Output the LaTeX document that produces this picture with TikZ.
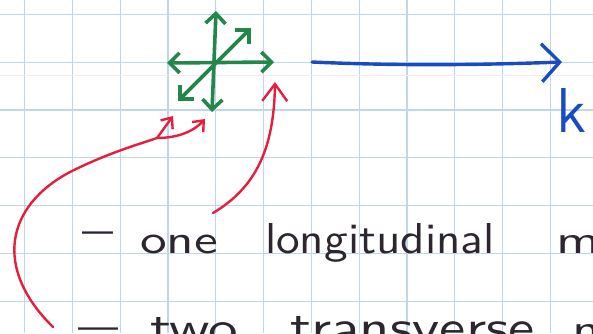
\documentclass[tikz,border=0pt]{standalone}
\usepackage{fontspec}
\usetikzlibrary{arrows.meta}
\definecolor{gridblue}{RGB}{190,215,236}
\definecolor{pinkline}{RGB}{249,232,238}
\definecolor{gpen}{RGB}{35,135,75}
\definecolor{bpen}{RGB}{25,75,195}
\definecolor{rpen}{RGB}{228,30,60}
\definecolor{kpen}{RGB}{45,38,48}
\begin{document}
\begin{tikzpicture}[x=1pt,y=-1pt,
  gridline/.style={gridblue, line width=1.2pt},
  gtip/.tip={Straight Barb[length=10pt,width=20pt]},
  greenpen/.style={gpen, line width=3.6pt, line cap=round, line join=round, gtip-gtip},
  bluepen/.style={bpen, line width=3.4pt, line cap=round, line join=round, -{Straight Barb[length=18pt,width=38pt]}},
  redpen/.style={rpen, line width=2.4pt, line cap=round, line join=round},
  rtip/.tip={Straight Barb[length=9pt,width=15pt]},
  rbig/.tip={Straight Barb[length=17pt,width=25pt]},
  txt/.style={text=kpen, inner sep=0pt, outer sep=0pt, anchor=base west, font=\sffamily}
]
\useasboundingbox (0,0) rectangle (593,333);
\clip (0,0) rectangle (593,333);
\fill[white] (0,0) rectangle (593,333);
% grid
\foreach \i in {0,...,12} \draw[gridline] ({24.5+47.8*\i},0) -- ({24.5+47.8*\i},333);
\foreach \j in {0,...,6} \draw[gridline] (0,{14.3+47.8*\j}) -- (593,{14.3+47.8*\j});
\draw[pinkline, line width=0.8pt] (0,75) -- (593,75);

% green cross
\coordinate (vT) at (216,11);
\coordinate (vB) at (212,112);
\coordinate (hL) at (167,63);
\coordinate (hR) at (274,62);
\coordinate (dU) at (251,28);
\coordinate (dL) at (178,101);
\draw[greenpen] (vB) -- (vT);
\draw[greenpen] (hL) -- (hR);
\draw[greenpen] (dL) -- (dU);

% blue k arrow
\coordinate (bS) at (312,62);
\coordinate (bE) at (562,62);
\draw[bluepen] (bS) .. controls (400,66) and (480,65) .. (bE);
\node[text=bpen, inner sep=0pt, anchor=base west, font=\sffamily] (k) at (556,132) {\resizebox{30pt}{44pt}{k}};

% red arrows
\coordinate (r1s) at (53,327);
\coordinate (rmid) at (70,172);
\coordinate (rfork) at (157,138);
\coordinate (r1a) at (173,116);
\coordinate (r1b) at (205,119);
\draw[redpen] (r1s) .. controls (-7,268) and (6,206) .. (rmid) .. controls (110,152) and (140,144) .. (rfork);
\draw[redpen, -rtip] (rfork) -- (r1a);
\draw[redpen, -rtip] (rfork) .. controls (180,138) and (195,130) .. (r1b);
\coordinate (r2s) at (213,213);
\coordinate (r2e) at (275,82);
\draw[redpen, -rbig] (r2s) .. controls (255,188) and (274,150) .. (r2e);

% text line 1
\node[txt] (d1) at (82,243) {\scalebox{6.2}[3.8]{–}};
\node[txt] (one) at (140,253) {\resizebox{78pt}{18.5pt}{one}};
\node[txt] (long) at (265,253) {\resizebox{230pt}{30pt}{longitudinal}};
\node[txt] (m1) at (556,253) {\resizebox{44pt}{18pt}{m}};
% text line 2
\node[txt] (d2) at (78,339) {\scalebox{8}[3.8]{–}};
\node[txt] (two) at (150,343) {\resizebox{88pt}{26pt}{two}};
\node[txt] (trans) at (290,343) {\resizebox{245pt}{27pt}{transverse}};
\node[txt] (m2) at (572,343) {\resizebox{44pt}{19pt}{m}};
\end{tikzpicture}
\end{document}
